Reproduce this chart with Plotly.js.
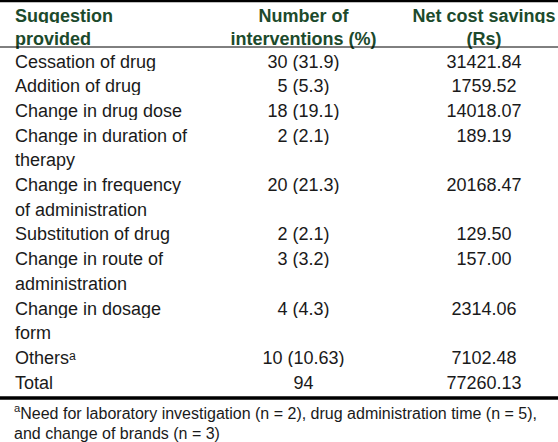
<!DOCTYPE html>
<html>
<head>
<meta charset="utf-8">
<script src="https://cdn.plot.ly/plotly-3.0.1.min.js"></script>
<style>html,body{margin:0;padding:0;background:#fff;}#chart{width:558px;height:442px;}</style>
</head>
<body>
<div id="chart"></div>
<script>
const headers = ["Suggestion<br>provided", "Number of<br>interventions (%)", "Net cost savings<br>(Rs)"];
const suggestions = [
  "Cessation of drug",
  "Addition of drug",
  "Change in drug dose",
  "Change in duration of<br>therapy",
  "Change in frequency<br>of administration",
  "Substitution of drug",
  "Change in route of<br>administration",
  "Change in dosage<br>form",
  "Others\u1d43",
  "Total"
];
const interventions = ["30 (31.9)", "5 (5.3)", "18 (19.1)", "2 (2.1)", "20 (21.3)", "2 (2.1)", "3 (3.2)", "4 (4.3)", "10 (10.63)", "94"];
const savings = ["31421.84", "1759.52", "14018.07", "189.19", "20168.47", "129.50", "157.00", "2314.06", "7102.48", "77260.13"];
const footnote = "<sup>a</sup>Need for laboratory investigation (n = 2), drug administration time (n = 5),<br>and change of brands (n = 3)";

// keep each line on one line (no automatic re-wrapping by the table)
const nb = s => s.replace(/ /g, '\u00a0');

// Build table rows: each wrapped line of a suggestion becomes its own table line
const col1 = [], col2 = [], col3 = [];
suggestions.forEach((s, i) => {
  s.split('<br>').forEach((line, j) => {
    col1.push(nb(line));
    col2.push(j === 0 ? nb(interventions[i]) : '');
    col3.push(j === 0 ? nb(savings[i]) : '');
  });
});
const headerCols = headers.map(h => h.split('<br>').map(nb));

const W = 558, H = 442;
const py = p => 1 - p / H;
const FONT = 'Liberation Sans, Arial, sans-serif';

const trace = {
  type: 'table',
  domain: {x: [7 / W, 1], y: [py(430), py(-2)]},
  columnwidth: [190, 213, 148],
  header: {
    values: headerCols,
    align: ['left', 'center', 'center'],
    height: 23,
    fill: {color: 'white'},
    line: {width: 0, color: 'white'},
    font: {family: FONT, size: 18, color: '#1c4a2c', weight: 'bold'}
  },
  cells: {
    values: [col1, col2, col3],
    align: ['left', 'center', 'center'],
    height: 24.7,
    fill: {color: 'white'},
    line: {width: 0, color: 'white'},
    font: {family: FONT, size: 18, color: '#1a1a1a'}
  }
};

const footLines = footnote.split('<br>');
const footY = [412, 433];

const layout = {
  width: W, height: H,
  margin: {l: 0, r: 0, t: 0, b: 0},
  paper_bgcolor: 'white',
  showlegend: false,
  shapes: [
    {type: 'line', xref: 'paper', yref: 'paper', x0: 0, x1: 1, y0: py(1), y1: py(1), line: {color: '#000', width: 2.5}},
    {type: 'line', xref: 'paper', yref: 'paper', x0: 0, x1: 1, y0: py(47), y1: py(47), line: {color: '#000', width: 1}},
    {type: 'line', xref: 'paper', yref: 'paper', x0: 0, x1: 1, y0: py(398), y1: py(398), line: {color: '#000', width: 3.5}}
  ],
  annotations: footLines.map((t, i) => ({
    xref: 'paper', yref: 'paper', x: 12 / W, y: py(footY[i]), xanchor: 'left', yanchor: 'middle',
    align: 'left', showarrow: false, text: t,
    font: {family: FONT, size: 16, color: '#1a1a1a'}
  }))
};

Plotly.newPlot('chart', [trace], layout, {displayModeBar: false, staticPlot: true});
</script>
</body>
</html>
